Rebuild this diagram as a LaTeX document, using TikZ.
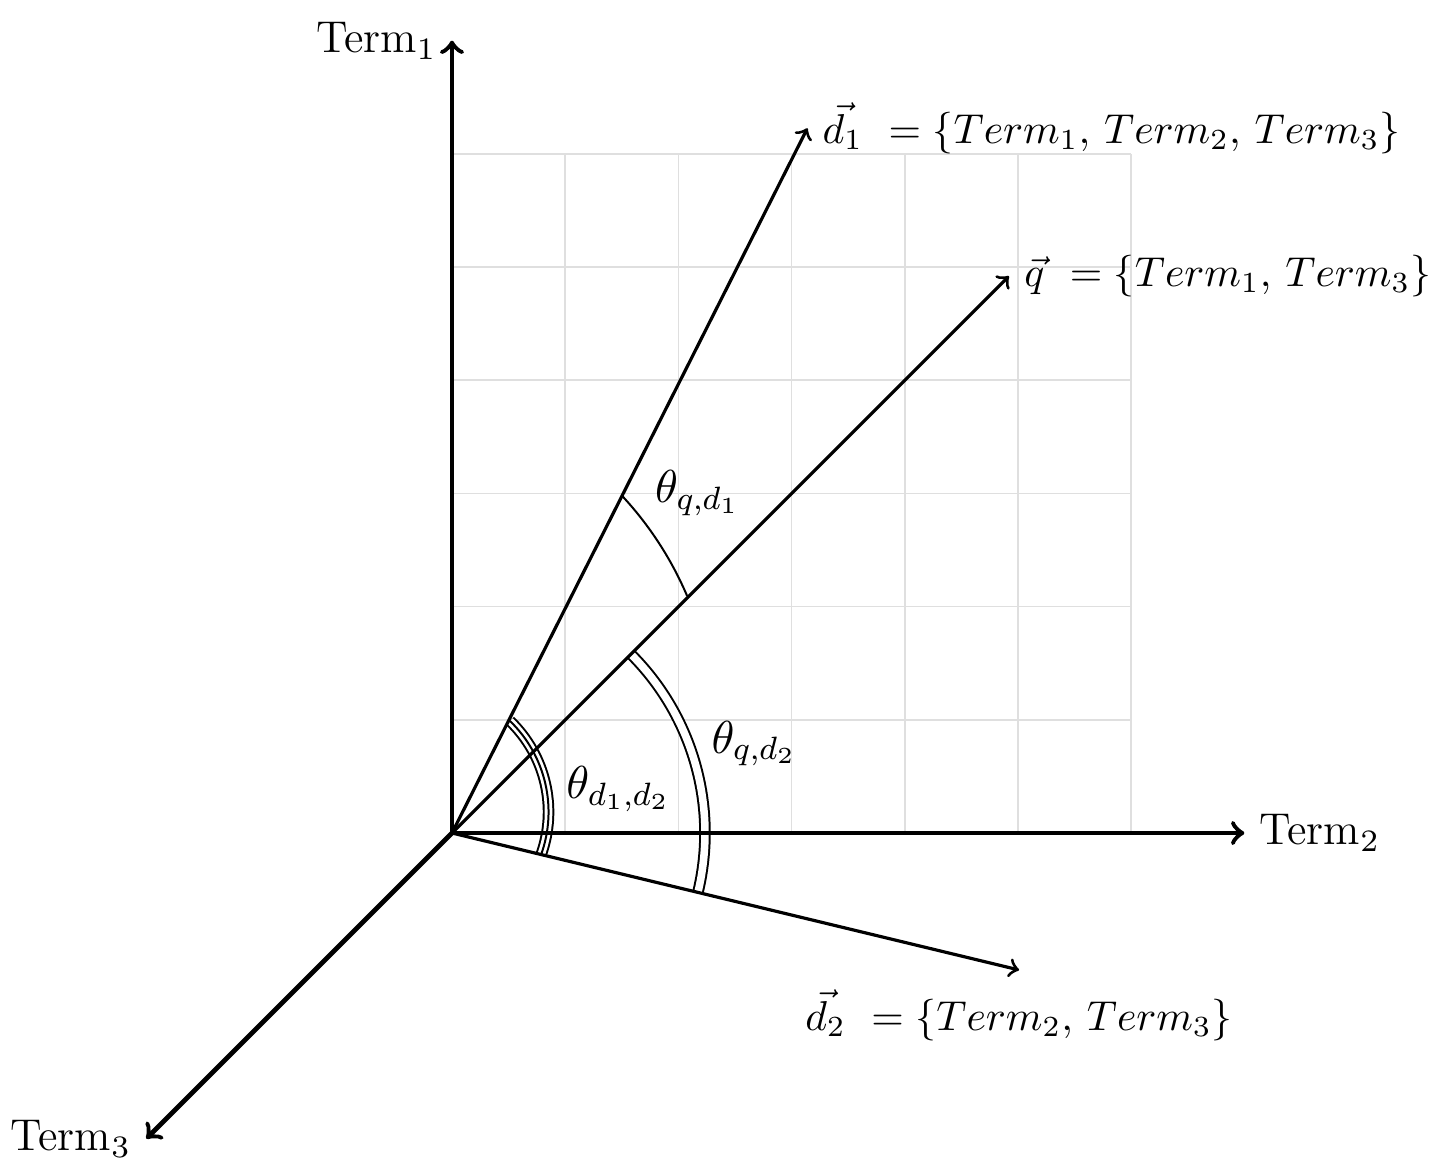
\RequirePackage{fix-cm}
\documentclass[11pt,tikz,border=0pt]{standalone}
\usepackage{amsmath}
\begin{document}
\begin{tikzpicture}[
  axis/.style={->, line width=1.2pt},
  vecline/.style={->, line width=0.8pt},
  gridline/.style={gray!25, line width=0.4pt},
  arcline/.style={line width=0.5pt},
  dblarc/.style={double, double distance=1.9pt, line width=0.5pt},
  axlabel/.style={font=\fontsize{11.2}{13}\selectfont},
  setlabel/.style={font=\fontsize{10.5}{12.5}\selectfont},
  anglabel/.style={font=\fontsize{11.6}{13.5}\selectfont},
]
\useasboundingbox (-3.993,-2.959) rectangle (8.640,7.359);
\draw[gridline] (0,0) grid (6,6);

\coordinate (O) at (0,0);
\coordinate (t1) at (0,7);
\coordinate (t2) at (7,0);
\coordinate (t3) at (-2.7,-2.7);
\coordinate (d1) at (3.14,6.226);
\coordinate (q) at (4.92,4.92);
\coordinate (d2) at (5.01,-1.21);

% angle arcs
\draw[arcline] (-0.742,0.892) ++(42.9:3.065) arc[start angle=42.9, end angle=23.1, radius=3.065];
\draw[dblarc] (45:2.235) arc[start angle=45, end angle=-13.5, radius=2.235];
\draw[dblarc] (-0.265,0.186) ++(46:1.118) arc[start angle=46, end angle=-19.9, radius=1.118];
\draw[arcline] (-0.265,0.186) ++(46:1.118) arc[start angle=46, end angle=-19.9, radius=1.118];

% axes
\draw[axis] (O) -- (t1);
\draw[axis] (O) -- (t2);
\draw[axis] (O) -- (t3);
\node[axlabel, left] (T1) at (t1) {Term$_1$};
\node[axlabel, right] (T2) at (t2) {Term$_2$};
\node[axlabel, left] (T3) at (t3) {Term$_3$};

% vectors
\draw[vecline] (O) -- (d1);
\draw[vecline] (O) -- (q);
\draw[vecline] (O) -- (d2);
\node[setlabel, right] (D1) at (d1) {$\vec{d_1}\ =\{Term_1,\,Term_2,\,Term_3\}$};
\node[setlabel, right] (Q) at (q) {$\vec{q}\ =\{Term_1,\,Term_3\}$};
\node[setlabel, below=1pt] (D2) at (d2) {$\vec{d_2}\ =\{Term_2,\,Term_3\}$};

% angle labels
\node[anglabel] (aqd1) at (2.17,3.0) {$\theta_{q,d_1}$};
\node[anglabel] (aqd2) at (2.67,0.79) {$\theta_{q,d_2}$};
\node[anglabel] (ad1d2) at (1.47,0.39) {$\theta_{d_1,d_2}$};
\end{tikzpicture}
\end{document}
